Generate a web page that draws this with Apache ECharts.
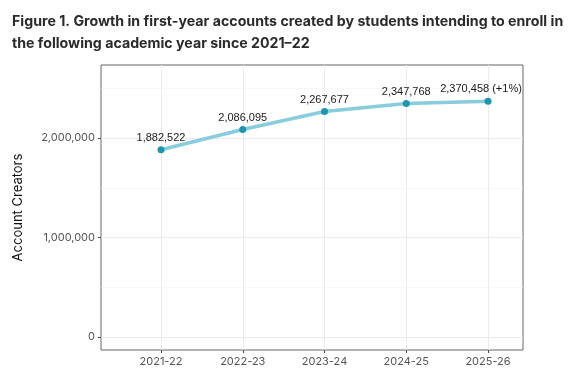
<!DOCTYPE html>
<html>
<head>
<meta charset="utf-8">
<script src="https://cdn.jsdelivr.net/npm/echarts@6/dist/echarts.min.js"></script>
<style>
  html, body { margin: 0; padding: 0; background: #fff; }
  #main { width: 586px; height: 375px; }
</style>
</head>
<body>
<div id="main"></div>
<script>
// 学年 and account creators
var years = ['2021-22', '2022-23', '2023-24', '2024-25', '2025-26'];
var creators = [1882522, 2086095, 2267677, 2347768, 2370458];
var pointLabels = ['1,882,522', '2,086,095', '2,267,677', '2,347,768', '2,370,458 (+1%)'];
var yMajor = [0, 1000000, 2000000];
var yMinor = [500000, 1500000, 2500000];

var fmt = function (v) {
    return Math.round(v).toLocaleString('en-US');
};

var myChart = echarts.init(document.getElementById('main'));

var seriesData = [];
for (var i = 0; i < creators.length; i++) {
    seriesData.push([i, creators[i]]);
}

var option = {
    backgroundColor: '#fff',
    animation: false,
    title: {
        text: 'Figure 1. Growth in first-year accounts created by students intending to enroll in\nthe following academic year since 2021\u201322',
        left: 7,
        top: 6,
        textStyle: {
            fontFamily: 'Inter',
            fontSize: 14.2,
            fontWeight: 'bold',
            color: '#2b2b2b',
            lineHeight: 22
        }
    },
    grid: {
        left: 101,
        right: 63,
        top: 65,
        bottom: 25,
        show: true,
        borderColor: '#666',
        borderWidth: 1,
        outerBoundsMode: 'none'
    },
    xAxis: {
        type: 'value',
        min: -0.734,
        max: 4.428,
        axisLine: { show: false, onZero: false },
        axisTick: {
            show: true,
            length: 3,
            customValues: [0, 1, 2, 3, 4],
            lineStyle: { color: '#444' }
        },
        axisLabel: {
            customValues: [0, 1, 2, 3, 4],
            margin: 6,
            fontFamily: 'Inter',
            fontSize: 11,
            color: '#555',
            formatter: function (v) { return years[Math.round(v)]; }
        },
        splitLine: { show: true, lineStyle: { color: '#ebebeb', width: 1 } }
    },
    yAxis: [
        {
            type: 'value',
            min: -131000,
            max: 2735000,
            name: 'Account Creators',
            nameLocation: 'middle',
            nameRotate: 90,
            nameGap: 76,
            nameTextStyle: { fontFamily: 'Inter', fontSize: 13, color: '#111' },
            axisLine: { show: false, onZero: false },
            axisTick: {
                show: true,
                length: 3,
                customValues: yMajor,
                lineStyle: { color: '#444' }
            },
            axisLabel: {
                customValues: yMajor,
                margin: 6,
                fontFamily: 'Inter',
                fontSize: 11,
                color: '#555',
                formatter: fmt
            },
            splitLine: { show: true, lineStyle: { color: '#ebebeb', width: 1 } }
        },
        {
            type: 'value',
            min: -131000,
            max: 2735000,
            position: 'left',
            axisLine: { show: false, onZero: false },
            axisTick: { show: false, customValues: yMinor },
            axisLabel: { show: false, customValues: yMinor },
            splitLine: { show: true, lineStyle: { color: '#f4f4f4', width: 0.6 } }
        }
    ],
    series: [{
        type: 'line',
        yAxisIndex: 0,
        data: seriesData,
        symbol: 'circle',
        symbolSize: 7,
        itemStyle: { color: '#1b97b2' },
        lineStyle: { color: '#87cddd', width: 3.5 },
        label: {
            show: true,
            position: 'top',
            distance: 3,
            fontFamily: 'Liberation Sans',
            fontSize: 11,
            color: '#1a1a1a',
            formatter: function (p) { return pointLabels[p.dataIndex]; }
        },
        labelLayout: function (params) {
            if (params.dataIndex === creators.length - 1) {
                return { dx: -7 };
            }
        }
    }]
};

myChart.setOption(option);
</script>
</body>
</html>
